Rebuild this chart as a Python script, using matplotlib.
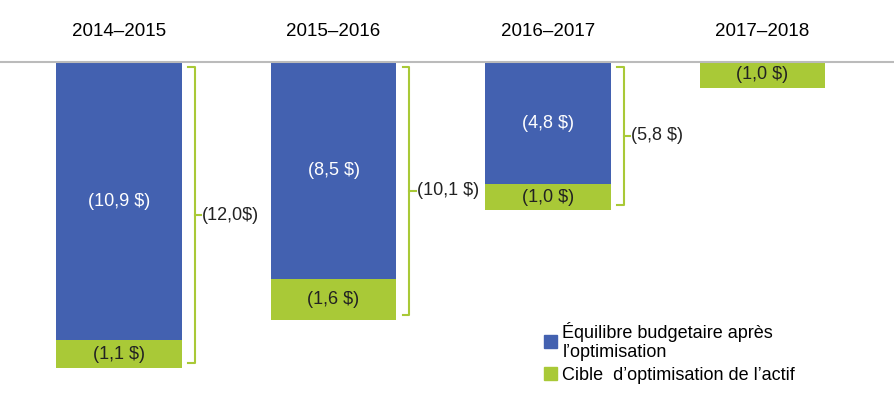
import matplotlib.pyplot as plt
from matplotlib.patches import Patch

years = ["2014–2015", "2015–2016", "2016–2017", "2017–2018"]
budget = [10.9, 8.5, 4.8, 0.0]
target = [1.1, 1.6, 1.0, 1.0]
totals = [12.0, 10.1, 5.8, None]
budget_lbl = ["(10,9 $)", "(8,5 $)", "(4,8 $)", ""]
target_lbl = ["(1,1 $)", "(1,6 $)", "(1,0 $)", "(1,0 $)"]
total_lbl = ["(12,0$)", "(10,1 $)", "(5,8 $)", ""]

blue = "#4361B0"
green = "#A9C937"
plt.rcParams['font.family'] = ['Liberation Sans', 'DejaVu Sans']

fig = plt.figure(figsize=(8.95, 4), dpi=100)
ax = fig.add_axes([0, 0, 1, 1])
ax.set_xlim(-0.555, 3.618)
ax.set_ylim(-13.25, 2.43)
ax.axis('off')
ax.axhline(0, color="#BBBBBB", lw=1.5, zorder=3)

w = 0.587
for i in range(len(years)):
    ax.bar(i, -budget[i], w, color=blue)
    ax.bar(i, -target[i], w, bottom=-budget[i], color=green)
    ax.text(i, 1.2, years[i], ha='center', va='center', fontsize=13.5)
    if budget[i] > 0:
        ax.text(i, -budget[i] / 2, budget_lbl[i], ha='center', va='center',
                fontsize=13, color='white')
    ax.text(i, -budget[i] - target[i] / 2, target_lbl[i], ha='center',
            va='center', fontsize=13, color='#222222')
    if totals[i]:
        bx = i + w / 2 + 0.06
        t = -totals[i]
        ax.plot([bx - 0.03, bx, bx, bx - 0.03], [-0.2, -0.2, t + 0.2, t + 0.2],
                color=green, lw=1.5)
        ax.plot([bx, bx + 0.03], [t / 2, t / 2], color=green, lw=1.5)
        ax.text(bx + 0.035, t / 2, total_lbl[i], ha='left', va='center',
                fontsize=13, color='#222222')

handles = [Patch(color=blue, label="Équilibre budgetaire après\nl’optimisation"),
           Patch(color=green, label="Cible  d’optimisation de l’actif")]
ax.legend(handles=handles, loc='lower left', bbox_to_anchor=(0.59, 0.0),
          frameon=False, fontsize=13, handlelength=0.7, handleheight=0.7,
          handletextpad=0.3, labelspacing=0.3)

fig.savefig("out.png", dpi=100)
